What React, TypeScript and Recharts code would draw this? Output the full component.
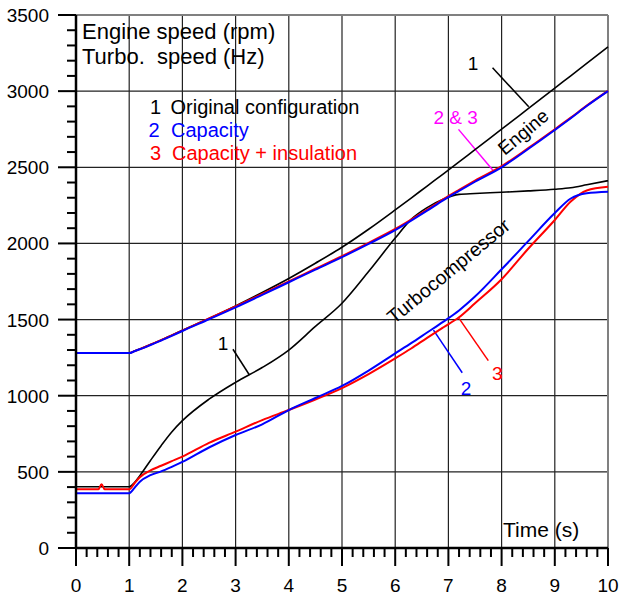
import { Line, LineChart, ReferenceLine, XAxis, YAxis } from "recharts";

const time = [0, 0.42, 0.48, 0.54, 1, 1.1, 1.2, 1.4, 1.6, 1.8, 2, 2.5, 3, 3.5, 4, 4.5, 5, 5.5, 6, 6.3, 6.6, 6.9, 7.2, 7.5, 8, 8.5, 9, 9.3, 9.6, 10];

// engine speed (rpm)
const engine1 = [1280, 1280, 1280, 1280, 1280, 1293, 1307, 1336, 1366, 1398, 1430, 1508, 1590, 1678, 1770, 1870, 1975, 2093, 2220, 2298, 2377, 2455, 2535, 2616, 2750, 2885, 3020, 3101, 3182, 3290];
const engine2 = [1280, 1280, 1280, 1280, 1280, 1292, 1305, 1333, 1362, 1393, 1425, 1502, 1580, 1662, 1745, 1828, 1910, 1997, 2088, 2150, 2215, 2283, 2345, 2405, 2500, 2620, 2745, 2822, 2902, 3000];
const engine3 = [1280, 1280, 1280, 1280, 1280, 1293, 1306, 1335, 1365, 1396, 1428, 1507, 1586, 1668, 1751, 1834, 1917, 2004, 2095, 2157, 2222, 2290, 2352, 2412, 2507, 2626, 2750, 2826, 2905, 3002];

// turbocharger speed (Hz)
const turbo1 = [402, 402, 402, 402, 402, 430, 475, 575, 672, 762, 836, 977, 1088, 1185, 1300, 1455, 1607, 1815, 2035, 2158, 2235, 2290, 2322, 2328, 2336, 2345, 2356, 2366, 2385, 2412];
const turbo2 = [360, 360, 360, 360, 360, 395, 435, 478, 503, 533, 565, 660, 742, 812, 906, 985, 1064, 1165, 1278, 1345, 1415, 1485, 1560, 1651, 1830, 2015, 2200, 2295, 2330, 2340];
const turbo3 = [385, 385, 418, 385, 385, 425, 465, 510, 540, 570, 600, 690, 764, 840, 906, 975, 1050, 1142, 1245, 1310, 1380, 1448, 1515, 1607, 1765, 1965, 2154, 2275, 2348, 2372];

const xMajor = [0, 1, 2, 3, 4, 5, 6, 7, 8, 9, 10];
const yMajor = [0, 500, 1000, 1500, 2000, 2500, 3000, 3500];

const data = time.map((t, i) => ({
  t,
  engine1: engine1[i],
  engine2: engine2[i],
  engine3: engine3[i],
  turbo1: turbo1[i],
  turbo2: turbo2[i],
  turbo3: turbo3[i],
}));

const xTicks = Array.from({ length: 51 }, (_, i) => i / 5);
const yTicks = Array.from({ length: 36 }, (_, i) => i * 100);

const font = "'Liberation Sans', Arial, sans-serif";

function XTick({ x, y, payload }: any) {
  const v = payload.value;
  const major = Math.abs(v - Math.round(v)) < 1e-6;
  return (
    <g>
      <line x1={x} x2={x} y1={y} y2={y + (major ? 18 : 9)} stroke="#000" strokeWidth={2} />
      {major && (
        <text x={x} y={y + 44} textAnchor="middle" fontSize={19} fontFamily={font} fill="#000">
          {Math.round(v)}
        </text>
      )}
    </g>
  );
}

function YTick({ x, y, payload }: any) {
  const v = payload.value;
  const major = v % 500 === 0;
  return (
    <g>
      <line x1={x - (major ? 18 : 9)} x2={x} y1={y} y2={y} stroke="#000" strokeWidth={2} />
      {major && (
        <text x={x - 27} y={y + 7} textAnchor="end" fontSize={19} fontFamily={font} fill="#000">
          {v}
        </text>
      )}
    </g>
  );
}

export default function App() {
  return (
    <div style={{ position: "absolute", left: 0, top: 0, width: 620, height: 597, background: "#fff" }}>
      <LineChart width={620} height={597} data={data} margin={{ top: 15, right: 12, bottom: 0, left: 0 }}>
        <XAxis
          dataKey="t"
          type="number"
          domain={[0, 10]}
          ticks={xTicks}
          interval={0}
          tickSize={0}
          tickMargin={0}
          height={49}
          tickLine={false}
          axisLine={{ stroke: "#000", strokeWidth: 2.5 }}
          tick={<XTick />}
        />
        <YAxis
          type="number"
          domain={[0, 3500]}
          ticks={yTicks}
          interval={0}
          tickSize={0}
          tickMargin={0}
          width={76}
          tickLine={false}
          axisLine={{ stroke: "#000", strokeWidth: 2.5 }}
          tick={<YTick />}
        />
        {xMajor.slice(1, 10).map((v) => (
          <ReferenceLine key={"gx" + v} x={v} stroke="#222" strokeWidth={1.2} />
        ))}
        {yMajor.slice(1, 7).map((v) => (
          <ReferenceLine key={"gy" + v} y={v} stroke="#222" strokeWidth={1.2} />
        ))}
        <ReferenceLine x={10} stroke="#808080" strokeWidth={2} />
        <ReferenceLine y={3500} stroke="#808080" strokeWidth={2} />

        {/* leader lines for labels */}
        <ReferenceLine segment={[{ x: 7.83, y: 3154 }, { x: 8.51, y: 2897 }]} stroke="#000" strokeWidth={1.5} />
        <ReferenceLine segment={[{ x: 7.19, y: 2749 }, { x: 7.86, y: 2471 }]} stroke="#ff00ff" strokeWidth={1.5} />
        <ReferenceLine segment={[{ x: 2.95, y: 1305 }, { x: 3.26, y: 1136 }]} stroke="#000" strokeWidth={1.5} />
        <ReferenceLine segment={[{ x: 6.72, y: 1431 }, { x: 7.26, y: 1151 }]} stroke="#0000ff" strokeWidth={1.5} />
        <ReferenceLine segment={[{ x: 7.2, y: 1508 }, { x: 7.75, y: 1230 }]} stroke="#ff0000" strokeWidth={1.5} />

        <Line type="monotone" dataKey="engine1" stroke="#000" strokeWidth={1.6} dot={false} isAnimationActive={false} />
        <Line type="monotone" dataKey="turbo1" stroke="#000" strokeWidth={1.6} dot={false} isAnimationActive={false} />
        <Line type="monotone" dataKey="engine3" stroke="#ff0000" strokeWidth={2} dot={false} isAnimationActive={false} />
        <Line type="monotone" dataKey="turbo3" stroke="#ff0000" strokeWidth={2} dot={false} isAnimationActive={false} />
        <Line type="monotone" dataKey="engine2" stroke="#0000ff" strokeWidth={2} dot={false} isAnimationActive={false} />
        <Line type="monotone" dataKey="turbo2" stroke="#0000ff" strokeWidth={2} dot={false} isAnimationActive={false} />
      </LineChart>
      <svg width={620} height={597} style={{ position: "absolute", left: 0, top: 0, pointerEvents: "none" }} fontFamily={font}>
        <text x={82} y={39} fontSize={22} fill="#000">Engine speed (rpm)</text>
        <text x={82} y={63.5} fontSize={22} fill="#000" xmlSpace="preserve" style={{ whiteSpace: "pre" }}>Turbo.  speed (Hz)</text>

        <text x={150} y={114} fontSize={20} fill="#000">1</text>
        <text x={170.5} y={114} fontSize={20} fill="#000">Original configuration</text>
        <text x={148.5} y={137} fontSize={20} fill="#0000ff">2</text>
        <text x={171} y={137} fontSize={20} fill="#0000ff">Capacity</text>
        <text x={150} y={160} fontSize={20} fill="#ff0000">3</text>
        <text x={172} y={160} fontSize={20} fill="#ff0000">Capacity + insulation</text>

        <text x={473} y={70} fontSize={19} textAnchor="middle" fill="#000">1</text>
        <text x={455.7} y={124} fontSize={19} textAnchor="middle" fill="#ff00ff">2 &amp; 3</text>
        <text x={0} y={7} fontSize={19} textAnchor="middle" fill="#000" transform="translate(523,131.7) rotate(-40)">Engine</text>
        <text x={0} y={7} fontSize={19.5} textAnchor="middle" fill="#000" transform="translate(448.3,270.8) rotate(-39.5)">Turbocompressor</text>
        <text x={223} y={350} fontSize={19} textAnchor="middle" fill="#000">1</text>
        <text x={466} y={395} fontSize={19} textAnchor="middle" fill="#0000ff">2</text>
        <text x={497.3} y={379.5} fontSize={19} textAnchor="middle" fill="#ff0000">3</text>
        <text x={503} y={536.5} fontSize={21} fill="#000">Time (s)</text>
      </svg>
    </div>
  );
}
